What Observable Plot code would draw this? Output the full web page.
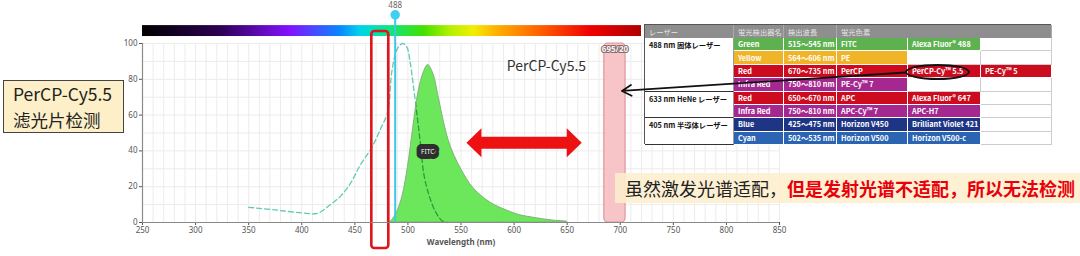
<!DOCTYPE html>
<html><head><meta charset="utf-8">
<script src="https://cdn.jsdelivr.net/npm/d3@7"></script>
<script src="https://cdn.jsdelivr.net/npm/@observablehq/plot@0.6"></script>
<style>
html,body{margin:0;padding:0;background:#fff;}
#wrap{position:relative;width:1080px;height:256px;overflow:hidden;background:#fff;}
#wrap svg{position:absolute;left:0;top:0;}
.abs{position:absolute;}
#tbl{left:644px;top:24px;width:407px;height:120px;display:grid;grid-template-columns:89px 50px 53px 71px 73px 71px;grid-template-rows:13px repeat(8,13.375px);box-sizing:border-box;border:1px solid #555;font-family:"Noto Sans CJK JP","Noto Sans",sans-serif;font-size:7.3px;font-weight:700;background:#fff;z-index:2;}
#tbl div{box-sizing:border-box;display:flex;align-items:center;padding-left:4px;white-space:nowrap;overflow:hidden;color:#fff;}
#tbl div.hd{background:#8e8e8e;color:#e6e6e6;font-weight:400;border-right:1px solid #aaa;}
#tbl div.laser{color:#111;background:#fff;align-items:flex-start;padding-top:2px;border-bottom:1px solid #333;border-right:1px solid #999;}
#tbl div.col{border-right:1px solid #fff;border-bottom:1px solid #fff;}
#tbl div.empty{background:#fff;border-right:1px solid #ccc;border-bottom:1px solid #ccc;}
#lbox{left:3px;top:80px;width:121px;height:53px;box-sizing:border-box;border:1px solid #444;background:#fdf0c8;font-family:"Noto Sans CJK SC",sans-serif;font-size:17.5px;padding:0 0 0 9px;color:#222;z-index:3;overflow:hidden;}
#lbox div{height:25.5px;line-height:25.5px;white-space:nowrap;}
#bbox{left:615px;top:173px;width:465px;height:30px;box-sizing:border-box;background:rgba(253,238,205,0.88);font-family:"Noto Sans CJK SC",sans-serif;font-size:18px;line-height:30px;padding-left:10px;color:#222;white-space:nowrap;z-index:3;}
#bbox b{color:#e8000b;}
#ell{left:905px;top:64px;width:65px;height:16px;box-sizing:border-box;border:2px solid #111;border-radius:50%;z-index:4;}
#overlay{z-index:5;pointer-events:none;}
</style></head>
<body><div id="wrap"></div>
<script>
// ---------------- data ----------------
const xTicks = [250, 300, 350, 400, 450, 500, 550, 600, 650, 700, 750, 800, 850];
const yTicks = [0, 20, 40, 60, 80, 100];
const gridXs = d3.range(250, 851, 10);
const gridYs = d3.range(0, 101, 10);

// FITC excitation (dashed) and emission (filled) spectra, % of max
const excitationWl  = [350, 375, 400, 415, 427, 437, 446, 455, 466, 474, 481, 485, 490, 495, 499, 502, 505, 509, 512, 515, 520, 526, 532, 537];
const excitationVal = [8.5, 7, 5.4, 5.2, 10, 15, 22, 32, 42, 52, 62, 85, 97, 100, 98, 90, 77, 58, 43, 27, 15, 6, 1, 0];
const emissionWl  = [483, 486, 490, 495, 500, 505, 510, 515, 519, 524, 529, 534, 540, 550, 562, 578, 594, 606, 620, 635, 650];
const emissionVal = [0, 2, 6, 15, 31, 53, 73, 84, 88, 83, 70, 56, 43, 30, 19, 11, 6.5, 4, 2.5, 1.2, 0.5];

const laserWl = [488];
const laserLabels = ["488"];
const bandpassCenter = [695];
const bandpassWidth = [20];
const bandpassLabels = ["695/20"];
const detectWindowWl = [466, 482];        // red outlined window
const dyeLabel = ["FITC"];
const dyeLabelPos = [518.6, 39.7];
const titleLabel = ["PerCP-Cy5.5"];
const titleLabelPos = [630.5, 87.4];
const spectrumRangeWl = [250, 720];
const spectrumStopsWl = [250, 323, 389, 436, 455, 474, 515, 540, 562, 584, 625, 672, 719];
const spectrumStopsColor = ["#000000", "#2c0052", "#8410ff", "#0a86ff", "#00d2ea", "#00e6a4", "#44e000", "#b2f000", "#f2ee00", "#ffb000", "#ff6000", "#f00000", "#b00000"];
const doubleArrowWl = [555.6, 664.2];
const doubleArrowY = [44.3];
const calloutFrom = [968.7, 83.8];
const calloutTo = [701.6, 73.5];
const leftNoteLines = ["PerCP-Cy5.5", "滤光片检测"];
const bottomNoteParts = ["虽然激发光谱适配，", "但是发射光谱不适配，所以无法检测"];

// table
const tableHeader = ["レーザー", "蛍光検出器名", "検出波長", "蛍光色素"];
const laserNames = ["488 nm 固体レーザー", "633 nm HeNe レーザー", "405 nm 半導体レーザー"];
const laserRowSpans = [4, 2, 2];
const channelNames = ["Green", "Yellow", "Red", "Infra Red", "Red", "Infra Red", "Blue", "Cyan"];
const channelRanges = ["515～545 nm", "564～606 nm", "670～735 nm", "750～810 nm", "650～670 nm", "750～810 nm", "425～475 nm", "502～535 nm"];
const dyes1 = ["FITC", "PE", "PerCP", "PE-Cy™ 7", "APC", "APC-Cy™ 7", "Horizon V450", "Horizon V500"];
const dyes2 = ["Alexa Fluor® 488", "", "PerCP-Cy™ 5.5", "", "Alexa Fluor® 647", "APC-H7", "Brilliant Violet 421", "Horizon V500-c"];
const dyes3 = ["", "", "PE-Cy™ 5", "", "", "", "", ""];
const channelColors = ["#5db14f", "#f0b428", "#cc0b1f", "#a52890", "#cc0b1f", "#a52890", "#1e3585", "#2a64b2"];

// ---------------- chart ----------------
const W = 1080, H = 256;
const frame = {width: W, height: H, marginLeft: 142, marginRight: 301, marginTop: 43, marginBottom: 34};
const excitation = excitationWl.map((x, i) => ({x, y: excitationVal[i]}));
const emission = emissionWl.map((x, i) => ({x, y: emissionVal[i]}));
const bands = bandpassCenter.map((c, i) => ({x1: c - bandpassWidth[i] / 2, x2: c + bandpassWidth[i] / 2, label: bandpassLabels[i], c}));

const plot = Plot.plot({
  ...frame,
  style: {fontFamily: '"Noto Sans", sans-serif', fontSize: "8px", color: "#555", background: "transparent", overflow: "visible"},
  x: {domain: [250, 850], ticks: xTicks, tickSize: 3, tickPadding: 2, label: null},
  y: {domain: [0, 100], ticks: yTicks, tickSize: 3, tickPadding: 2, label: null},
  marks: [
    Plot.ruleX(gridXs, {stroke: "#ececec", strokeWidth: 1}),
    Plot.ruleY(gridYs, {stroke: "#ececec", strokeWidth: 1}),
    Plot.rect([spectrumRangeWl], {x1: d => d[0], x2: d => d[1], y1: 103.9, y2: 110, fill: "url(#specGrad)"}),
    Plot.rect(bands, {x1: "x1", x2: "x2", y1: 0, y2: 100, fill: "#f6bec2", fillOpacity: 0.9, stroke: "#e0959b", strokeWidth: 1.2, rx: 4}),
    Plot.line(excitation, {x: "x", y: "y", stroke: "#62c9b4", strokeWidth: 1.3, strokeDasharray: "5,3", curve: "catmull-rom"}),
    Plot.areaY(emission, {x: "x", y: "y", fill: "#64e652", fillOpacity: 0.95, stroke: "#7f9f78", strokeWidth: 0.8, curve: "catmull-rom"}),
    Plot.line(excitation, {x: "x", y: "y", stroke: "#2f9a3a", strokeWidth: 1.3, strokeDasharray: "5,3", curve: "catmull-rom"}),
    Plot.ruleX(laserWl, {y1: 0, y2: 116, stroke: "#3cc8e6", strokeWidth: 2}),
    Plot.dot(laserWl, {x: d => d, y: 116, r: 4, fill: "#3fd0f0", stroke: "#3fd0f0"}),
    Plot.text(laserLabels, {x: laserWl, y: 121.5, text: d => d, fill: "#666", fontSize: 8}),
    Plot.rect([detectWindowWl], {x1: d => d[0], x2: d => d[1], y1: -14.5, y2: 106.7, fill: "none", stroke: "#e0141a", strokeWidth: 2.6, rx: 3}),
    Plot.text(bands, {x: "c", y: 96.6, text: "label", fill: "#f4f4f4", stroke: "#8a6a6c", strokeWidth: 2.2, paintOrder: "stroke", fontSize: 8, fontWeight: 700}),
    Plot.text(dyeLabel, {x: dyeLabelPos[0], y: dyeLabelPos[1], text: d => d, fill: "#fff", stroke: "#2e2e2e", strokeWidth: 10, strokeLinejoin: "round", paintOrder: "stroke", fontSize: 6.5}),
    Plot.text(titleLabel, {x: titleLabelPos[0], y: titleLabelPos[1], text: d => d, fill: "#333", fontSize: 14, fontFamily: '"Noto Sans CJK SC", sans-serif'}),
    Plot.ruleY([0], {stroke: "#8a8a8a", strokeWidth: 1.2}),
    Plot.ruleX([250], {stroke: "#8a8a8a", strokeWidth: 1.2}),
    Plot.text(["Wavelength (nm)"], {frameAnchor: "bottom", dy: 22, text: d => d, fill: "#555", fontSize: 8, fontWeight: 700})
  ]
});

const wrap = document.getElementById("wrap");
wrap.appendChild(plot);
const xs = plot.scale("x"), ys = plot.scale("y");
const svg = d3.select(plot);

// spectrum gradient
const defs = svg.append("defs");
const grad = defs.append("linearGradient").attr("id", "specGrad").attr("x1", "0%").attr("x2", "100%").attr("y1", "0%").attr("y2", "0%");
spectrumStopsWl.forEach((w, i) => grad.append("stop")
  .attr("offset", ((w - spectrumRangeWl[0]) / (spectrumRangeWl[1] - spectrumRangeWl[0]) * 100) + "%")
  .attr("stop-color", spectrumStopsColor[i]));

// clip the dark-green excitation copy to the emission area
const areaPath = svg.select('g[aria-label="area"] path');
const lineGroups = svg.selectAll('g[aria-label="line"]').nodes();
if (!areaPath.empty() && lineGroups.length > 1) {
  defs.append("clipPath").attr("id", "emClip").append("path").attr("d", areaPath.attr("d"));
  d3.select(lineGroups[1]).attr("clip-path", "url(#emClip)");
}

// red double arrow
{
  const xl = xs.apply(doubleArrowWl[0]), xr = xs.apply(doubleArrowWl[1]), yc = ys.apply(doubleArrowY[0]);
  const hl = 15, hh = 14.5, sh = 6;
  const pts = [[xl, yc], [xl + hl, yc - hh], [xl + hl, yc - sh], [xr - hl, yc - sh], [xr - hl, yc - hh], [xr, yc],
               [xr - hl, yc + hh], [xr - hl, yc + sh], [xl + hl, yc + sh], [xl + hl, yc + hh]];
  svg.append("polygon").attr("points", pts.map(p => p.join(",")).join(" ")).attr("fill", "#ee1111");
}

// table
const tbl = document.createElement("div");
tbl.id = "tbl"; tbl.className = "abs";
function cell(text, cls, styles) {
  const d = document.createElement("div");
  d.className = cls; d.textContent = text;
  Object.assign(d.style, styles || {});
  tbl.appendChild(d);
  return d;
}
cell(tableHeader[0], "hd", {gridColumn: "1", gridRow: "1"});
cell(tableHeader[1], "hd", {gridColumn: "2", gridRow: "1"});
cell(tableHeader[2], "hd", {gridColumn: "3", gridRow: "1"});
cell(tableHeader[3], "hd", {gridColumn: "4 / 7", gridRow: "1"});
let r0 = 0;
laserNames.forEach((name, k) => {
  cell(name, "laser", {gridColumn: "1", gridRow: `${r0 + 2} / span ${laserRowSpans[k]}`});
  r0 += laserRowSpans[k];
});
channelNames.forEach((ch, i) => {
  const row = String(i + 2), bg = {background: channelColors[i]};
  cell(ch, "col", {gridColumn: "2", gridRow: row, ...bg});
  cell(channelRanges[i], "col", {gridColumn: "3", gridRow: row, ...bg});
  cell(dyes1[i], "col", {gridColumn: "4", gridRow: row, ...bg});
  cell(dyes2[i], dyes2[i] ? "col" : "empty", {gridColumn: "5", gridRow: row, ...(dyes2[i] ? bg : {})});
  cell(dyes3[i], dyes3[i] ? "col" : "empty", {gridColumn: "6", gridRow: row, ...(dyes3[i] ? bg : {})});
});
wrap.appendChild(tbl);

// text boxes
const lbox = document.createElement("div");
lbox.id = "lbox"; lbox.className = "abs";
leftNoteLines.forEach(t => { const d = document.createElement("div"); d.textContent = t; lbox.appendChild(d); });
wrap.appendChild(lbox);
const bbox = document.createElement("div");
bbox.id = "bbox"; bbox.className = "abs";
bbox.appendChild(document.createTextNode(bottomNoteParts[0]));
const bold = document.createElement("b"); bold.textContent = bottomNoteParts[1]; bbox.appendChild(bold);
wrap.appendChild(bbox);
const ell = document.createElement("div");
ell.id = "ell"; ell.className = "abs";
wrap.appendChild(ell);

// overlay callout arrow (same scales)
const overlay = Plot.plot({
  ...frame,
  style: {background: "transparent", overflow: "visible"},
  x: {domain: [250, 850], axis: null},
  y: {domain: [0, 100], axis: null},
  marks: [
    Plot.arrow([{x1: calloutFrom[0], y1: calloutFrom[1], x2: calloutTo[0], y2: calloutTo[1]}],
      {x1: "x1", y1: "y1", x2: "x2", y2: "y2", stroke: "#111", strokeWidth: 1.8, headLength: 9})
  ]
});
overlay.id = "overlay";
wrap.appendChild(overlay);
</script>
</body></html>
